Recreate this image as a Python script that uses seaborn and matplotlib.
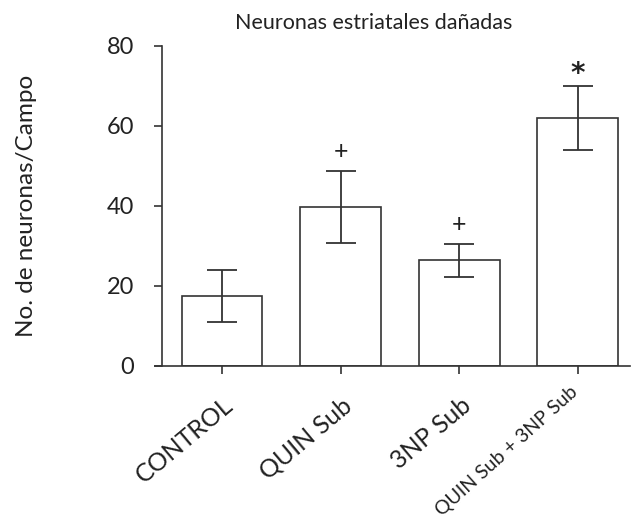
import numpy as np
import pandas as pd
import seaborn as sns
import matplotlib.pyplot as plt
from matplotlib.transforms import ScaledTranslation

categories = ["CONTROL", "QUIN Sub", "3NP Sub", "QUIN Sub + 3NP Sub"]
means = [17.5, 39.8, 26.4, 62.0]
errors = [6.5, 9.0, 4.2, 7.9]
marks = ["", "+", "+", "*"]
yticks = [0, 20, 40, 60, 80]

sns.set_style("white")
plt.rcParams['font.family'] = ['Lato', 'DejaVu Sans']
ink = "#333333"
txt = "#222222"

df = pd.DataFrame({"group": categories, "value": means})

fig = plt.figure(figsize=(6.33, 5.29), dpi=100)
ax = fig.add_axes([155 / 633, 163 / 529, 475 / 633, 320 / 529])

sns.barplot(data=df, x="group", y="value", color="white", edgecolor=ink,
            linewidth=1.2, width=0.68, errorbar=None, ax=ax, zorder=2)
for p in ax.patches:
    p.set_facecolor("white")
ax.errorbar(np.arange(len(categories)), means, yerr=errors, fmt="none",
            ecolor=ink, elinewidth=1.3, capsize=11, capthick=1.3, zorder=3)

for i, (m, e, s) in enumerate(zip(means, errors, marks)):
    if s == "+":
        ax.text(i, m + e + 4.8, s, ha="center", va="center", fontsize=18,
                color=txt, clip_on=False)
    elif s:
        ax.text(i, m + e + 3.2, s, ha="center", va="center", fontsize=20,
                fontweight="bold", color=txt, family="DejaVu Sans", clip_on=False)

ax.set_xlim(-0.565, 3.44)
ax.set_ylim(0, 80)
ax.set_yticks(yticks)
ax.set_yticklabels([str(t) for t in yticks])

for s in ["top", "right"]:
    ax.spines[s].set_visible(False)
ax.spines["left"].set_position(("axes", 7 / 475))
for s in ["left", "bottom"]:
    ax.spines[s].set_color(ink)
    ax.spines[s].set_linewidth(1.2)

ax.tick_params(axis="y", left=True, length=6, width=1.2, color=ink, pad=14,
               labelsize=17, labelcolor=txt)
ax.tick_params(axis="x", bottom=True, length=6, width=1.2, color=ink, pad=20,
               labelsize=18, labelcolor=txt)
ax.set_xticklabels(categories, rotation=40, ha="right", va="center",
                   rotation_mode="anchor")
labels = ax.get_xticklabels()
for i, lab in enumerate(labels):
    dx, dy = 6, 0
    if i == len(labels) - 1:
        lab.set_fontsize(14)
        lab.set_rotation(42)
        dx, dy = -2, 9
    lab.set_transform(lab.get_transform() + ScaledTranslation(dx / 72, dy / 72, fig.dpi_scale_trans))

ax.set_xlabel("")
ax.set_ylabel("No. de neuronas/Campo", fontsize=17.5, color=txt, labelpad=50)
ax.set_title("Neuronas estriatales dañadas", fontsize=15.5, color=txt, x=0.46, pad=12)

fig.savefig("out.png", dpi=100)
